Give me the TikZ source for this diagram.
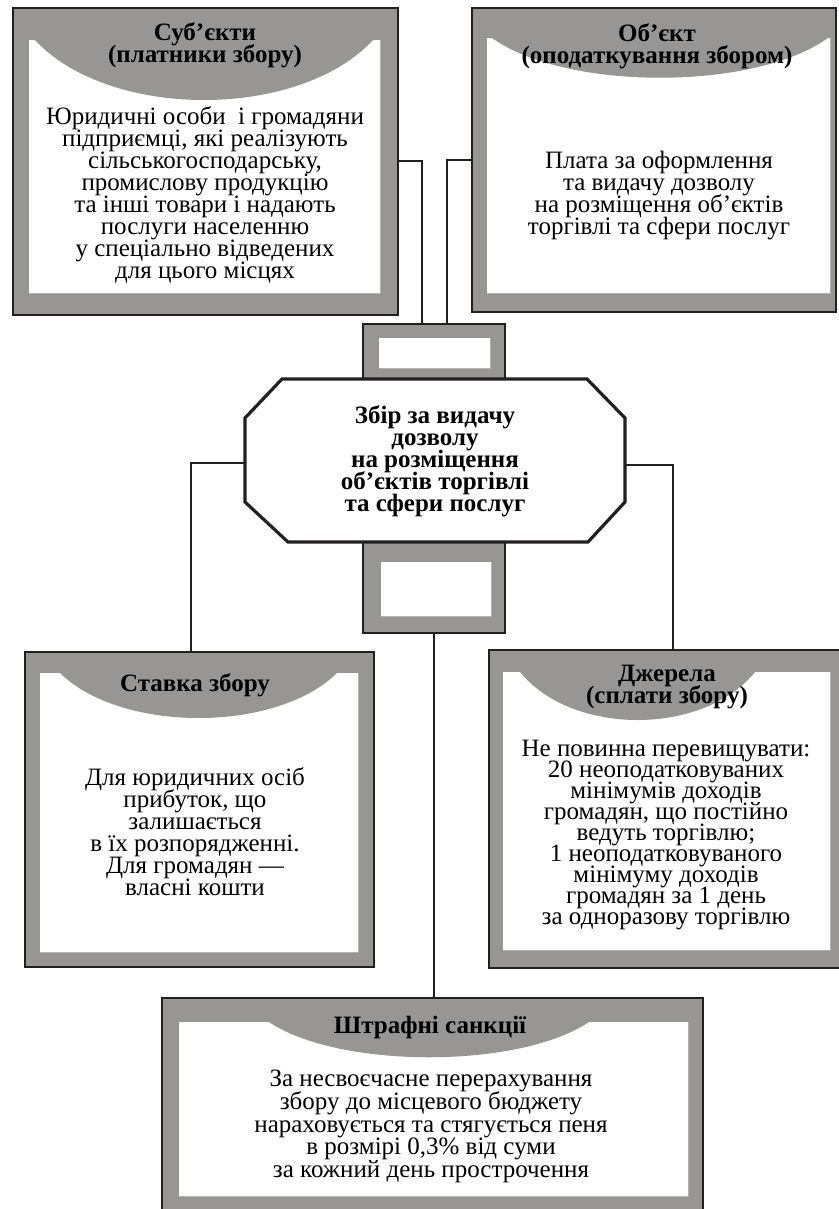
\documentclass[tikz,border=0pt]{standalone}
\usepackage{fontspec}
\setmainfont{Liberation Serif}
\definecolor{shade}{RGB}{151,150,148}
\definecolor{ink}{RGB}{35,31,32}
\setlength{\lineskiplimit}{-30pt}
\tikzset{
  frame/.style={draw=ink,line width=1.4pt,fill=shade},
  pane/.style={fill=white},
  rim/.style={draw=black!30,line width=0.8pt},
  arch/.style={fill=shade},
  link/.style={draw=ink,line width=2pt},
  octa/.style={draw=ink,fill=white,line width=3.2pt},
  head/.style={font=\fontsize{25}{22}\selectfont\bfseries}
}
\tikzstyle{every node}=[align=center,inner sep=0pt,font=\fontsize{25}{22}\selectfont]

\begin{document}
\begin{tikzpicture}[x=1pt,y=-1pt]
    \useasboundingbox (0,0) rectangle (838,1209);
    % Суб'єкти
    \node[frame,minimum width=385,minimum height=307] (A) at (205.5,161.5) {};
    \fill[pane] (29,40) rectangle (380,293);
    \draw[rim] (380,40) -- (380,293) -- (29,293);
    \fill[arch] (35,40) .. controls (109,120) and (299,120) .. (373,40) -- cycle;
    \node[head] (A1) at (205,45) {Суб’єкти\\(платники збору)};
    \node (A2) at (205,194.5) {Юридичні особи \ і громадяни\\підприємці, які реалізують\\сільськогосподарську,\\промислову продукцію\\та інші товари і надають\\послуги населенню\\у спеціально відведених\\для цього місцях};
    % Об'єкт
    \node[frame,minimum width=364,minimum height=304] (B) at (654,160) {};
    \fill[pane] (487,38) rectangle (830,293);
    \draw[rim] (830,38) -- (830,293) -- (487,293);
    \fill[arch] (492,38) .. controls (566,91) and (754,91) .. (828,38) -- cycle;
    \node[head] (B1) at (657,46) {Об’єкт\\(оподаткування збором)};
    \node (B2) at (659,195.5) {Плата за оформлення\\та видачу дозволу\\на розміщення об’єктів\\торгівлі та сфери послуг};
    % small boxes round the centre
    \node[frame,minimum width=142,minimum height=76] (T) at (434,362) {};
    \fill[pane] (379,338) rectangle (490,368);
    \draw[rim] (490,338) -- (490,368) -- (379,368);
    \node[frame,minimum width=142,minimum height=113] (L) at (434,576.5) {};
    \fill[pane] (381,562) rectangle (491,616);
    \draw[rim] (491,562) -- (491,616) -- (381,616);
    % centre
    \draw[octa] (282,379) -- (587,379) -- (625,418) -- (625,502) -- (588,542)
      -- (288,542) -- (245,502) -- (245,418) -- cycle;
    \node[head,minimum width=380,minimum height=163] (C) at (435,461) {Збір за видачу\\дозволу\\на розміщення\\об’єктів торгівлі\\та сфери послуг};
    % Ставка збору
    \node[frame,minimum width=349,minimum height=315] (D) at (199.5,809.5) {};
    \fill[pane] (40,673) rectangle (358,952);
    \draw[rim] (358,673) -- (358,952) -- (40,952);
    \fill[arch] (60,673) .. controls (121,733) and (276,733) .. (337,673) -- cycle;
    \node[head] (D1) at (195,685) {Ставка збору};
    \node (D2) at (195,831.5) {Для юридичних осіб\\прибуток, що\\залишається\\в їх розпорядженні.\\Для громадян —\\власні кошти};
    % Джерела
    \node[frame,minimum width=351,minimum height=318] (E) at (664.5,809) {};
    \fill[pane] (503,672) rectangle (830,950);
    \draw[rim] (830,672) -- (830,950) -- (503,950);
    \fill[arch] (520,672) .. controls (572,736) and (703,736) .. (755,672) -- cycle;
    \node[head] (E1) at (667,687) {Джерела\\(сплати збору)};
    \node[font=\fontsize{25}{21}\selectfont] (E2) at (666,835.5) {Не повинна перевищувати:\\20 неоподатковуваних\\мінімумів доходів\\громадян, що постійно\\ведуть торгівлю;\\1 неоподатковуваного\\мінімуму доходів\\громадян за 1 день\\за одноразову торгівлю};
    % Штрафні санкції
    \node[frame,minimum width=541,minimum height=217] (F) at (432.5,1106.5) {};
    \fill[pane] (179,1022) rectangle (688,1196);
    \draw[rim] (688,1022) -- (688,1196) -- (179,1196);
    \fill[arch] (269,1022) .. controls (339,1069) and (519,1069) .. (589,1022) -- cycle;
    \node[head] (F1) at (430,1027) {Штрафні санкції};
    \node[font=\fontsize{25}{22.75}\selectfont] (F2) at (431,1126.5) {За несвоєчасне перерахування\\збору до місцевого бюджету\\нараховується та стягується пеня\\в розмірі 0,3\% від суми\\за кожний день прострочення};
    % connectors
    \draw[link] (A.east) -| ([xshift=-12pt]T.north);
    \draw[link] (B.west) -| ([xshift=13pt]T.north);
    \draw[link] ([yshift=-2pt]C.west) -| ([xshift=-8.5pt]D.north);
    \draw[link] ([yshift=-4pt]C.east) -| ([xshift=8.5pt]E.north);
    \draw[link] (L.south) -- (L.south |- F.north);
\end{tikzpicture}
\end{document}
